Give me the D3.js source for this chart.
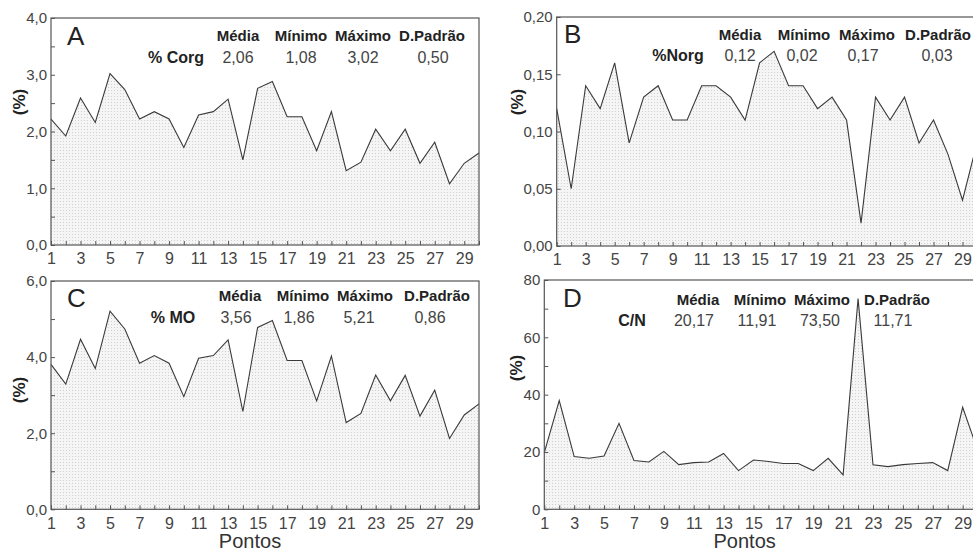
<!DOCTYPE html>
<html>
<head>
<meta charset="utf-8">
<script src="https://cdn.jsdelivr.net/npm/d3@7"></script>
<style>
  html, body { margin: 0; padding: 0; background: #fff; }
  svg { display: block; font-family: "Liberation Sans", Arial, sans-serif; }
</style>
</head>
<body>
<svg id="chart" width="973" height="552"></svg>
<script>
// pontos de amostragem
const pontos = d3.range(1, 31);

// valores
const corg = [2.22, 1.92, 2.59, 2.16, 3.02, 2.74, 2.22, 2.35, 2.22, 1.72,
              2.29, 2.35, 2.57, 1.50, 2.76, 2.88, 2.26, 2.26, 1.66, 2.35,
              1.31, 1.46, 2.04, 1.66, 2.04, 1.44, 1.81, 1.08, 1.44, 1.62];
const norg = [0.12, 0.05, 0.14, 0.12, 0.16, 0.09, 0.13, 0.14, 0.11, 0.11,
              0.14, 0.14, 0.13, 0.11, 0.16, 0.17, 0.14, 0.14, 0.12, 0.13,
              0.11, 0.02, 0.13, 0.11, 0.13, 0.09, 0.11, 0.08, 0.04, 0.09];
const mo   = [3.81, 3.29, 4.47, 3.70, 5.21, 4.74, 3.84, 4.04, 3.84, 2.96,
              3.97, 4.04, 4.45, 2.57, 4.78, 4.96, 3.91, 3.91, 2.85, 4.03,
              2.28, 2.52, 3.53, 2.85, 3.52, 2.45, 3.13, 1.86, 2.48, 2.77];
const cn   = [19.8, 37.9, 18.4, 17.8, 18.6, 30.0, 17.0, 16.5, 20.2, 15.6,
              16.3, 16.5, 19.5, 13.5, 17.2, 16.7, 16.0, 16.0, 13.5, 17.8,
              12.0, 73.5, 15.5, 14.9, 15.6, 16.0, 16.3, 13.5, 35.6, 20.7];

// estatísticas
const cabecalho = ["Média", "Mínimo", "Máximo", "D.Padrão"];
const statsCorg = ["2,06", "1,08", "3,02", "0,50"];
const statsNorg = ["0,12", "0,02", "0,17", "0,03"];
const statsMO   = ["3,56", "1,86", "5,21", "0,86"];
const statsCN   = ["20,17", "11,91", "73,50", "11,71"];

const panels = [
  { letra: "A", nome: "% Corg", data: corg, stats: statsCorg,
    l: 51, t: 18, r: 479, b: 245, yMax: 4, major: d3.range(0, 4.01, 1), minor: d3.range(0.5, 4, 1), dec: 1,
    letraX: 67, letraY: 45, hx: [238, 301, 363, 432], hy: 41, vx: [238, 301, 363, 433], vy: 63, nx: 176, ylab: [19, 102], pontos: false },
  { letra: "B", nome: "%Norg", data: norg, stats: statsNorg,
    l: 556.7, t: 17, r: 977, b: 246, yMax: 0.2, major: d3.range(0, 0.201, 0.05), minor: [], dec: 2,
    letraX: 564, letraY: 43, hx: [740, 804, 867, 938], hy: 40, vx: [740, 802, 863, 937], vy: 61, nx: 678, ylab: [517, 102], pontos: false },
  { letra: "C", nome: "% MO", data: mo, stats: statsMO,
    l: 51, t: 281, r: 479, b: 509.3, yMax: 6, major: d3.range(0, 6.01, 2), minor: d3.range(1, 6, 2), dec: 1,
    letraX: 67, letraY: 307, hx: [240, 303, 365, 437], hy: 301, vx: [236, 299, 359, 430], vy: 323, nx: 173, ylab: [19, 390], pontos: true },
  { letra: "D", nome: "C/N", data: cn, stats: statsCN,
    l: 544.3, t: 280, r: 977.6, b: 509.3, yMax: 80, major: d3.range(0, 81, 20), minor: d3.range(10, 80, 20), dec: 0,
    letraX: 563, letraY: 307, hx: [698, 760, 822, 897], hy: 305, vx: [694, 757, 820, 893], vy: 326, nx: 632, ylab: [516, 368], pontos: true }
];

const svg = d3.select("#chart");

// padrão pontilhado do preenchimento
const pat = svg.append("defs").append("pattern")
  .attr("id", "dots")
  .attr("width", 3).attr("height", 3)
  .attr("patternUnits", "userSpaceOnUse");
pat.append("rect").attr("width", 3).attr("height", 3).attr("fill", "#f5f5f5");
pat.append("rect").attr("width", 1).attr("height", 1).attr("fill", "#d0d0d0");

const fmt = dec => d => d.toFixed(dec).replace(".", ",");

for (let p of panels) {

  let x = d3.scaleLinear().domain([1, 30]).range([p.l, p.r]),
    y = d3.scaleLinear().domain([0, p.yMax]).range([p.b, p.t]);

  let g = svg.append("g");

  let area = d3.area()
    .x((d, i) => x(pontos[i]))
    .y0(y(0))
    .y1(d => y(d));

  let line = d3.line()
    .x((d, i) => x(pontos[i]))
    .y(d => y(d));

  g.append("path")
    .datum(p.data)
    .attr("d", area)
    .attr("fill", "url(#dots)");

  g.append("path")
    .datum(p.data)
    .attr("d", line)
    .attr("fill", "none")
    .attr("stroke", "#3a3a3a")
    .attr("stroke-width", 1.1);

  // eixo x
  let xAxis = g.append("g")
    .attr("transform", "translate(0," + p.b + ")")
    .call(d3.axisBottom(x)
      .tickValues(pontos)
      .tickSize(-4)
      .tickPadding(8)
      .tickFormat(d => (d % 2 == 1) ? d : ""));

  // eixo y
  let yAxis = g.append("g")
    .attr("transform", "translate(" + p.l + ",0)")
    .call(d3.axisLeft(y)
      .tickValues(p.major)
      .tickSize(-4)
      .tickPadding(4)
      .tickFormat(fmt(p.dec)));

  g.append("g")
    .attr("transform", "translate(" + p.l + ",0)")
    .call(d3.axisLeft(y).tickValues(p.minor).tickSize(-4).tickFormat(""))
    .select(".domain").remove();

  for (let ax of [xAxis, yAxis]) {
    ax.attr("font-family", null);
    ax.select(".domain").remove();
    ax.selectAll("text").attr("fill", "#444");
  }
  xAxis.attr("font-size", 16);
  yAxis.attr("font-size", 15);
  g.selectAll(".tick line").attr("stroke", "#555");

  // moldura
  g.append("rect")
    .attr("x", p.l).attr("y", p.t)
    .attr("width", p.r - p.l).attr("height", p.b - p.t)
    .attr("fill", "none")
    .attr("stroke", "#555")
    .attr("stroke-width", 1.2);

  g.append("text")
    .attr("x", p.letraX).attr("y", p.letraY)
    .attr("font-size", 26)
    .attr("fill", "#222")
    .text(p.letra);

  g.append("text")
    .attr("transform", "translate(" + p.ylab[0] + "," + p.ylab[1] + ") rotate(-90)")
    .attr("text-anchor", "middle")
    .attr("dominant-baseline", "central")
    .attr("font-size", 17)
    .attr("font-weight", "bold")
    .attr("fill", "#222")
    .text("(%)");

  g.selectAll(".hdr")
    .data(cabecalho)
    .join("text")
    .attr("class", "hdr")
    .attr("x", (d, i) => p.hx[i]).attr("y", p.hy)
    .attr("text-anchor", "middle")
    .attr("font-size", 15)
    .attr("font-weight", "bold")
    .attr("fill", "#222")
    .text(d => d);

  g.selectAll(".val")
    .data(p.stats)
    .join("text")
    .attr("class", "val")
    .attr("x", (d, i) => p.vx[i]).attr("y", p.vy)
    .attr("text-anchor", "middle")
    .attr("font-size", 16)
    .attr("fill", "#444")
    .text(d => d);

  g.append("text")
    .attr("x", p.nx).attr("y", p.vy)
    .attr("text-anchor", "middle")
    .attr("font-size", 16)
    .attr("font-weight", "bold")
    .attr("fill", "#222")
    .text(p.nome);

  if (p.pontos) {
    g.append("text")
      .attr("x", (p.l + Math.min(p.r, 973)) / 2 + (p.letra == "C" ? -15 : -14))
      .attr("y", 548)
      .attr("text-anchor", "middle")
      .attr("font-size", 20)
      .attr("fill", "#333")
      .text("Pontos");
  }
}
</script>
</body>
</html>
